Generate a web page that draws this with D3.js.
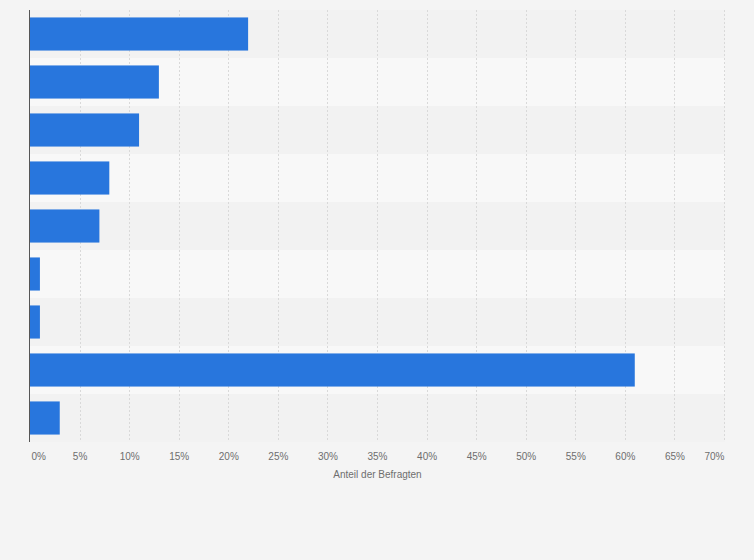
<!DOCTYPE html>
<html>
<head>
<meta charset="utf-8">
<script src="https://cdn.jsdelivr.net/npm/d3@7"></script>
<style>
  body { margin: 0; background: #f4f4f4; }
  svg { display: block; font-family: "Liberation Sans", Arial, sans-serif; }
</style>
</head>
<body>
<div id="chart"></div>
<script>
// categories have no visible labels in the picture, so only positions are kept
var categories = ["c1", "c2", "c3", "c4", "c5", "c6", "c7", "c8", "c9"];
var shares = [22, 13, 11, 8, 7, 1, 1, 61, 3];
var tickValues = [0, 5, 10, 15, 20, 25, 30, 35, 40, 45, 50, 55, 60, 65, 70];
var axisTitle = "Anteil der Befragten";

var W = 754, H = 560;
var margin = { top: 10, right: 29, bottom: 118, left: 30 };
var w = W - margin.left - margin.right,
    h = H - margin.top - margin.bottom;

var svg = d3.select("#chart").append("svg")
  .attr("width", W)
  .attr("height", H);

svg.append("rect").attr("width", W).attr("height", H).attr("fill", "#f4f4f4");

var g = svg.append("g").attr("transform", "translate(" + margin.left + "," + margin.top + ")");

var x = d3.scaleLinear().domain([0, 70]).range([0, w - 1]);
var y = d3.scaleBand().domain(categories).range([0, h]);
var yBar = d3.scaleBand().domain(categories).range([0, h]).paddingInner(0.31).paddingOuter(0.155);

// alternating row bands
g.selectAll("rect.band")
  .data(categories)
  .enter().append("rect")
  .attr("class", "band")
  .attr("x", 0)
  .attr("y", function (d) { return y(d); })
  .attr("width", w)
  .attr("height", y.bandwidth())
  .attr("fill", function (d, i) { return i % 2 ? "#f8f8f8" : "#f2f2f2"; });

// gridlines, dotted
g.selectAll("line.grid")
  .data(tickValues.slice(1))
  .enter().append("line")
  .attr("class", "grid")
  .attr("x1", function (d) { return Math.round(x(d)) + 0.5; })
  .attr("x2", function (d) { return Math.round(x(d)) + 0.5; })
  .attr("y1", 0)
  .attr("y2", h)
  .attr("stroke", "#d9d9d9")
  .attr("stroke-width", 1)
  .attr("stroke-dasharray", "2,2");

// bars
g.selectAll("rect.bar")
  .data(shares)
  .enter().append("rect")
  .attr("class", "bar")
  .attr("x", 0)
  .attr("y", function (d, i) { return yBar(categories[i]); })
  .attr("width", function (d) { return x(d); })
  .attr("height", yBar.bandwidth())
  .attr("fill", "#2876dd");

// left axis line
g.append("line")
  .attr("x1", -0.5).attr("x2", -0.5)
  .attr("y1", 0).attr("y2", h)
  .attr("stroke", "#555")
  .attr("stroke-width", 1);

// x axis labels
var xAxis = d3.axisBottom(x)
  .tickValues(tickValues)
  .tickSize(0)
  .tickPadding(11)
  .tickFormat(function (d) { return d + "%"; });

var ax = g.append("g")
  .attr("transform", "translate(0," + h + ")")
  .call(xAxis);
ax.select(".domain").remove();
ax.selectAll("text")
  .attr("fill", "#6e6e6e")
  .style("font-size", "10px")
  .style("font-family", "'Liberation Sans', Arial, sans-serif");
ax.selectAll(".tick").filter(function (d) { return d === 0; })
  .select("text").attr("text-anchor", "start").attr("dx", 1);
ax.selectAll(".tick").filter(function (d) { return d === 70; })
  .select("text").attr("text-anchor", "end").attr("dx", 0);

g.append("text")
  .attr("x", w / 2)
  .attr("y", h + 36)
  .attr("text-anchor", "middle")
  .attr("fill", "#6e6e6e")
  .style("font-size", "10px")
  .text(axisTitle);
</script>
</body>
</html>
